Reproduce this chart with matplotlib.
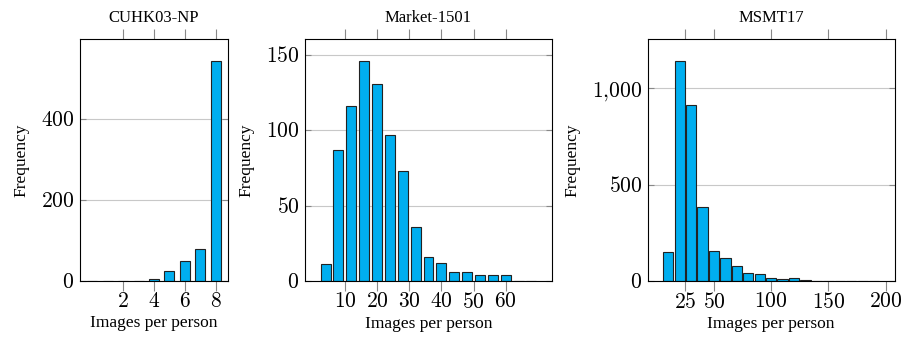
import numpy as np
import matplotlib.pyplot as plt
from matplotlib.ticker import FixedLocator, FuncFormatter

plt.rcParams['font.family'] = ['Liberation Serif', 'DejaVu Serif']
plt.rcParams['mathtext.fontset'] = 'cm'

# CUHK03-NP
cuhk_x = [0, 1, 2, 3, 4, 5, 6, 7, 8]
cuhk_y = [0, 0, 0, 0, 5, 24, 49, 80, 543]
cuhk_ticks = [2, 4, 6, 8]
cuhk_yticks = [0, 200, 400]

# Market-1501
market_x = [4, 8, 12, 16, 20, 24, 28, 32, 36, 40, 44, 48, 52, 56, 60, 64, 68]
market_y = [11, 87, 116, 146, 131, 97, 73, 36, 16, 12, 6, 6, 4, 4, 4, 0, 0]
market_ticks = [10, 20, 30, 40, 50, 60]
market_yticks = [0, 50, 100, 150]

# MSMT17
msmt_x = [10, 20, 30, 40, 50, 60, 70, 80, 90, 100, 110, 120, 130, 140, 150, 160, 170, 180, 190]
msmt_y = [149, 1142, 912, 383, 157, 118, 80, 43, 35, 17, 12, 13, 3, 2, 1, 1, 1, 1, 0]
msmt_ticks = [25, 50, 100, 150, 200]
msmt_yticks = [0, 500, 1000]

BAR_COLOR = '#00aeef'
EDGE_COLOR = '#222222'

fig = plt.figure(figsize=(9.04, 3.39), dpi=100)

panels = [
    ('CUHK03-NP', cuhk_x, cuhk_y, cuhk_ticks, cuhk_yticks, 0.65, [0.0885, 0.1711, 0.1637, 0.7139]),
    ('Market-1501', market_x, market_y, market_ticks, market_yticks, 3.1, [0.3374, 0.1711, 0.2732, 0.7139]),
    ('MSMT17', msmt_x, msmt_y, msmt_ticks, msmt_yticks, 9.0, [0.7165, 0.1711, 0.2732, 0.7139]),
]


def fmt(v, pos):
    v = int(round(v))
    if v >= 1000:
        return r'$%d{,}%03d$' % (v // 1000, v % 1000)
    return r'$%d$' % v


for title, xs, ys, xt, yt, bw, rect in panels:
    ax = fig.add_axes(rect)
    ax.bar(xs, ys, width=bw, color=BAR_COLOR, edgecolor=EDGE_COLOR, linewidth=0.8, zorder=3)
    span = max(xs) - min(xs)
    ax.set_xlim(min(xs) - 0.1 * span, max(xs) + 0.1 * span)
    ax.set_ylim(0, max(ys) * 1.1)
    ax.xaxis.set_major_locator(FixedLocator(xt))
    ax.yaxis.set_major_locator(FixedLocator(yt))
    ax.xaxis.set_major_formatter(FuncFormatter(fmt))
    ax.yaxis.set_major_formatter(FuncFormatter(fmt))
    ax.grid(axis='y', color='#c8c8c8', linewidth=0.8, zorder=0)
    ax.tick_params(axis='x', direction='out', top=True, bottom=True, length=7,
                   color='#888888', labelsize=15.5, pad=2)
    ax.tick_params(axis='y', direction='in', left=True, right=True, length=4,
                   color='#888888', labelsize=15.5, pad=4)
    for s in ax.spines.values():
        s.set_linewidth(0.8)
        s.set_zorder(4)
    ax.set_title(title, fontsize=12, pad=12)
    ax.set_xlabel('Images per person', fontsize=12.5, labelpad=2)
    ax.set_ylabel('Frequency', fontsize=12.5, labelpad=8)

fig.savefig('out.png', dpi=100)
